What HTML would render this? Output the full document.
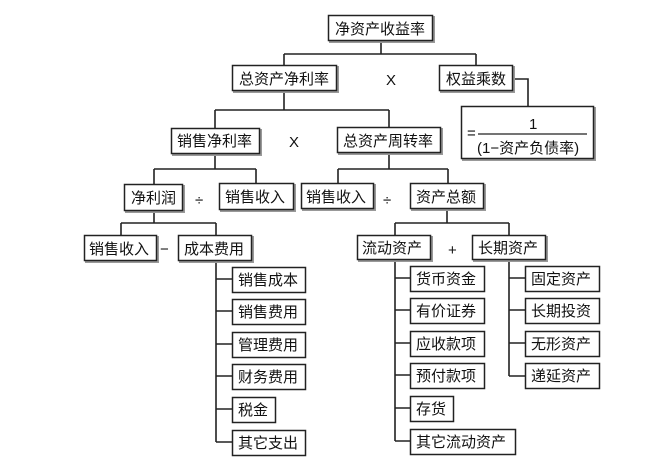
<!DOCTYPE html>
<html><head><meta charset="utf-8"><style>
html,body{margin:0;padding:0;background:#fff;}
svg{display:block;}
text{font-family:"Liberation Sans","Noto Sans CJK SC",sans-serif;font-size:15px;fill:#111;}
</style></head><body>
<svg width="654" height="471" viewBox="0 0 654 471" xmlns="http://www.w3.org/2000/svg">
<g stroke="#222" stroke-width="1.6" fill="none">
<path d="M381 41V54M284 54H476M284 54V66M476 54V66"/>
<path d="M513 79H528V107"/>
<path d="M284 91V110M215 110H389M215 110V129M389 110V128"/>
<path d="M215 154V169M154 169H256M154 169V184M256 169V184"/>
<path d="M389 153V169M338 169H448M338 169V184M448 169V184"/>
<path d="M154 210V223M121 223H216M121 223V236M216 223V236"/>
<path d="M447 209V223M395 223H509M395 223V236M509 223V236"/>
<path d="M216 261V442M216 279H232M216 311H232M216 344H232M216 376H232M216 409H232M216 442H232"/>
<path d="M395 260V441M395 278H410M395 310H410M395 343H410M395 375H410M395 408H410M395 441H410"/>
<path d="M509 260V376M509 278H525M509 310H525M509 343H525M509 376H525"/>
</g>
<g fill="#fff" stroke="#999" stroke-width="2">
<rect x="330" y="17" width="104" height="25"/>
<rect x="234" y="67" width="104" height="25"/>
<rect x="441" y="67" width="73" height="25"/>
<rect x="463" y="108" width="132" height="52"/>
<rect x="173" y="130" width="88" height="25"/>
<rect x="339" y="129" width="103" height="25"/>
<rect x="126" y="186" width="58" height="26"/>
<rect x="221" y="185" width="74" height="26"/>
<rect x="303" y="185" width="72" height="25"/>
<rect x="412" y="185" width="73" height="25"/>
<rect x="86" y="237" width="72" height="25"/>
<rect x="180" y="237" width="73" height="25"/>
<rect x="359" y="237" width="73" height="24"/>
<rect x="474" y="237" width="73" height="24"/>
</g>
<g fill="#fff" stroke="#222" stroke-width="1.5">
<rect x="328.5" y="15.5" width="104" height="25"/>
<rect x="232.5" y="65.5" width="104" height="25"/>
<rect x="439.5" y="65.5" width="73" height="25"/>
<rect x="461.5" y="106.5" width="132" height="52"/>
<rect x="171.5" y="128.5" width="88" height="25"/>
<rect x="337.5" y="127.5" width="103" height="25"/>
<rect x="124.5" y="184.5" width="58" height="26"/>
<rect x="219.5" y="183.5" width="74" height="26"/>
<rect x="301.5" y="183.5" width="72" height="25"/>
<rect x="410.5" y="183.5" width="73" height="25"/>
<rect x="84.5" y="235.5" width="72" height="25"/>
<rect x="178.5" y="235.5" width="73" height="25"/>
<rect x="357.5" y="235.5" width="73" height="24"/>
<rect x="472.5" y="235.5" width="73" height="24"/>
<rect x="232.5" y="267.5" width="73" height="25"/>
<rect x="232.5" y="299.5" width="73" height="25"/>
<rect x="232.5" y="332.5" width="73" height="25"/>
<rect x="232.5" y="364.5" width="73" height="25"/>
<rect x="232.5" y="397.5" width="43" height="25"/>
<rect x="232.5" y="430.5" width="73" height="25"/>
<rect x="410.5" y="266.5" width="74" height="25"/>
<rect x="410.5" y="298.5" width="74" height="25"/>
<rect x="410.5" y="331.5" width="74" height="25"/>
<rect x="410.5" y="363.5" width="74" height="25"/>
<rect x="410.5" y="396.5" width="43" height="25"/>
<rect x="410.5" y="429.5" width="105" height="25"/>
<rect x="525.5" y="266.5" width="74" height="25"/>
<rect x="525.5" y="298.5" width="74" height="25"/>
<rect x="525.5" y="331.5" width="74" height="25"/>
<rect x="525.5" y="363.5" width="74" height="25"/>
</g>
<path d="M478 134H587" stroke="#222" stroke-width="1.3"/>
<g>
<text x="335" y="34">净资产收益率</text>
<text x="239" y="84">总资产净利率</text>
<text x="446" y="84">权益乘数</text>
<text x="386" y="85" font-size="16">X</text>
<text x="529" y="129" font-size="14">1</text>
<text x="467" y="138" font-size="15">=</text>
<text x="477" y="153" font-size="14">(1−资产负债率)</text>
<text x="177" y="146">销售净利率</text>
<text x="289" y="147" font-size="16">X</text>
<text x="343" y="146">总资产周转率</text>
<text x="131" y="203">净利润</text>
<text x="195" y="205" font-size="19">÷</text>
<text x="225" y="202">销售收入</text>
<text x="306" y="202">销售收入</text>
<text x="383" y="205" font-size="19">÷</text>
<text x="416" y="202">资产总额</text>
<text x="89" y="254">销售收入</text>
<text x="160" y="254" font-size="18">−</text>
<text x="184" y="254">成本费用</text>
<text x="362" y="253">流动资产</text>
<text x="448" y="255" font-size="19">+</text>
<text x="478" y="253">长期资产</text>
<text x="238" y="285">销售成本</text>
<text x="238" y="317">销售费用</text>
<text x="238" y="350">管理费用</text>
<text x="238" y="382">财务费用</text>
<text x="238" y="415">税金</text>
<text x="238" y="448">其它支出</text>
<text x="416" y="284">货币资金</text>
<text x="416" y="316">有价证券</text>
<text x="416" y="349">应收款项</text>
<text x="416" y="381">预付款项</text>
<text x="416" y="414">存货</text>
<text x="416" y="447">其它流动资产</text>
<text x="531" y="284">固定资产</text>
<text x="531" y="316">长期投资</text>
<text x="531" y="349">无形资产</text>
<text x="531" y="381">递延资产</text>
</g>
</svg>
</body></html>
